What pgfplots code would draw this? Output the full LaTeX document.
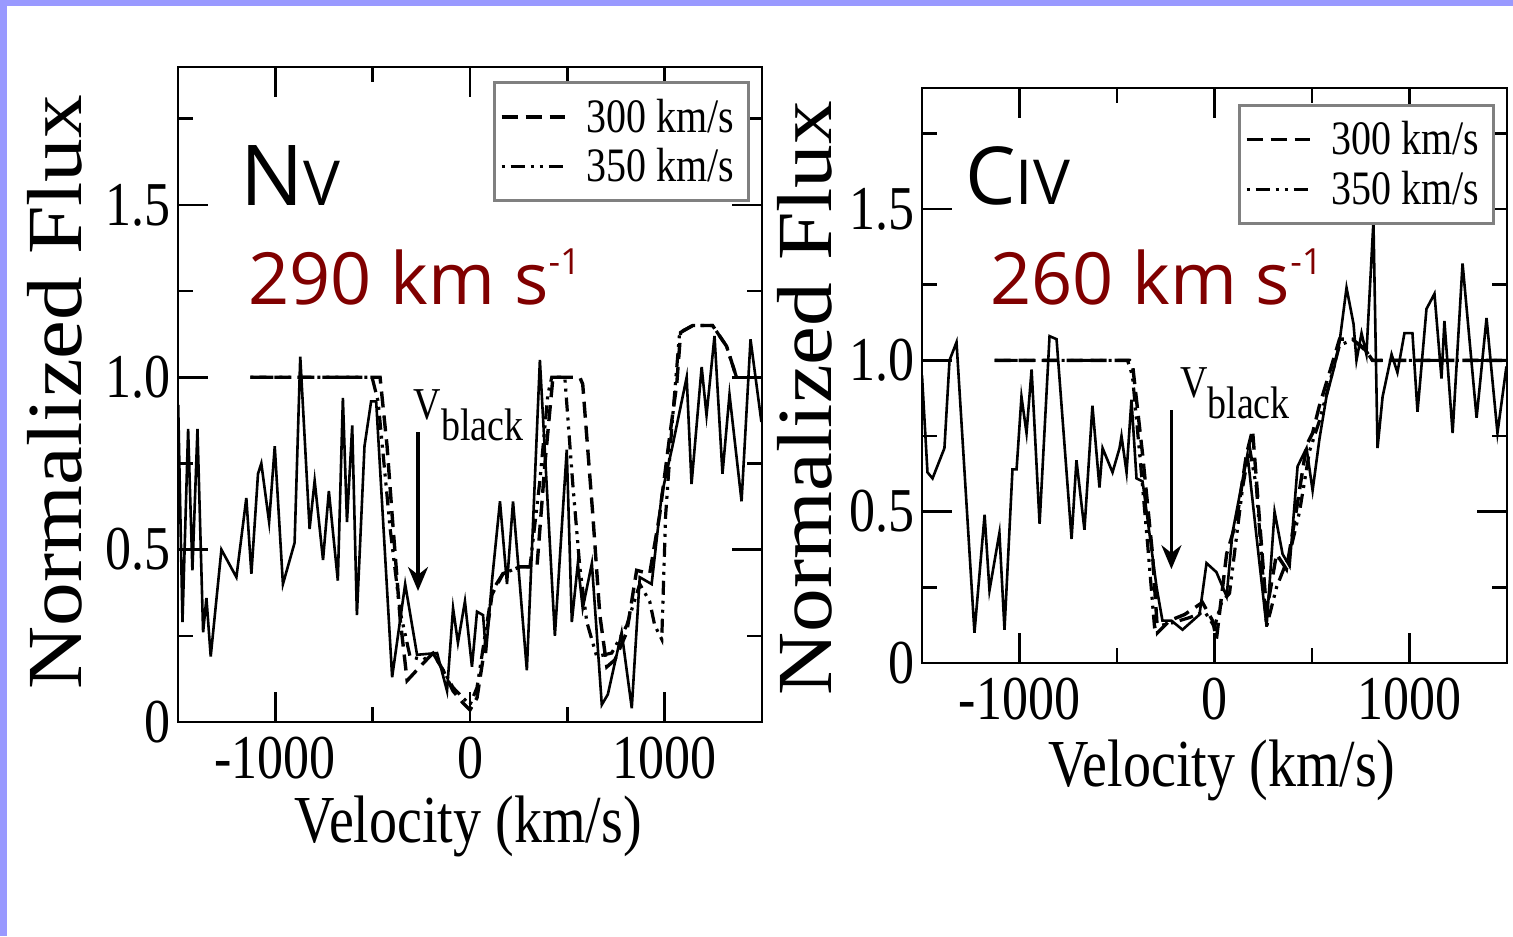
\documentclass[border=0pt]{standalone}
\usepackage{fontspec}
\setmainfont{Liberation Serif}
\newfontfamily\cfont{Open Sans}
\usepackage{pgfplots}
\usepackage{pgfplotstable}
\pgfplotsset{compat=1.18}
\usetikzlibrary{arrows.meta}

\definecolor{slideframe}{RGB}{153,153,255}
\definecolor{ionred}{RGB}{128,0,0}
\newcommand{\tl}[1]{\scalebox{1}[1.2]{#1}}

% ---------- N V ----------
\pgfplotstableread{
v f
-1499 0.92
-1477 0.29
-1448 0.85
-1426 0.44
-1400 0.85
-1371 0.26
-1354 0.36
-1332 0.19
-1277 0.50
-1200 0.42
-1149 0.65
-1123 0.43
-1089 0.72
-1072 0.75
-1032 0.58
-1003 0.80
-961 0.40
-901 0.52
-872 1.06
-824 0.56
-798 0.70
-755 0.47
-725 0.67
-679 0.41
-653 0.94
-632 0.58
-605 0.86
-581 0.31
-542 0.80
-508 0.93
-482 0.93
-400 0.13
-333 0.40
-272 0.195
-169 0.20
-118 0.09
-87 0.33
-62 0.23
-26 0.35
10 0.16
36 0.32
67 0.31
82 0.20
113 0.41
154 0.64
190 0.40
221 0.64
292 0.15
359 1.05
436 0.25
497 0.79
523 0.29
554 0.46
579 0.33
626 0.46
677 0.05
708 0.08
779 0.26
831 0.04
872 0.42
933 0.40
985 0.66
1040 0.80
1113 1.00
1138 0.69
1190 1.03
1215 0.89
1256 1.12
1297 0.72
1333 0.95
1395 0.64
1441 1.11
1497 0.87
}\nvobs

\pgfplotstableread{
v f
-1128 1.0
-462 1.0
-426 0.8
-400 0.6
-359 0.3
-323 0.12
-241 0.17
-190 0.20
-138 0.15
-87 0.09
-36 0.055
0 0.035
36 0.07
77 0.22
113 0.37
169 0.43
256 0.45
344 0.45
385 0.75
426 1.0
564 1.0
579 0.98
631 0.6
667 0.31
703 0.16
744 0.18
805 0.26
856 0.44
923 0.43
974 0.6
1026 0.83
1062 0.98
1082 1.13
1144 1.15
1246 1.15
1318 1.09
1369 1.0
}\nvthree

\pgfplotstableread{
v f
-1128 1.0
-503 1.0
-472 0.93
-410 0.56
-359 0.32
-308 0.19
-241 0.18
-190 0.20
-138 0.15
-87 0.10
-36 0.07
0 0.05
36 0.10
77 0.25
113 0.38
169 0.43
256 0.45
308 0.45
359 0.70
400 0.95
420 1.0
487 1.0
528 0.69
564 0.45
600 0.29
651 0.19
728 0.20
805 0.28
872 0.40
923 0.35
949 0.28
985 0.24
1005 0.60
1036 0.85
1077 1.13
1144 1.15
1246 1.15
1318 1.09
1369 1.0
}\nvfive

% ---------- C IV ----------
\pgfplotstableread{
v f
-1500 0.95
-1472 0.63
-1446 0.61
-1385 0.71
-1359 1.00
-1323 1.06
-1231 0.10
-1179 0.49
-1154 0.24
-1103 0.43
-1077 0.11
-1036 0.64
-1015 0.64
-990 0.88
-964 0.76
-938 0.97
-897 0.46
-846 1.08
-810 1.07
-733 0.41
-708 0.67
-667 0.44
-626 0.85
-590 0.58
-574 0.71
-523 0.63
-487 0.71
-477 0.75
-451 0.63
-426 0.87
-400 0.61
-369 0.60
-297 0.25
-267 0.14
-221 0.14
-164 0.11
-77 0.16
-41 0.33
10 0.30
62 0.22
92 0.43
169 0.69
215 0.42
267 0.12
308 0.50
349 0.36
385 0.32
426 0.65
472 0.71
503 0.57
538 0.74
574 0.88
615 0.98
641 1.06
677 1.24
713 1.12
728 1.00
754 1.09
779 1.02
815 1.46
836 0.71
862 0.88
908 1.02
938 0.96
974 1.09
1015 1.09
1041 0.83
1087 1.17
1128 1.22
1164 0.94
1179 1.13
1221 0.76
1272 1.32
1344 0.81
1395 1.14
1451 0.76
1497 0.98
}\civobs

\pgfplotstableread{
v f
-1128 1.0
-436 1.0
-421 0.99
-369 0.69
-318 0.36
-292 0.10
-231 0.14
-154 0.16
-62 0.20
-10 0.14
10 0.08
62 0.36
113 0.47
164 0.69
195 0.77
231 0.47
267 0.17
318 0.36
369 0.31
421 0.51
472 0.72
503 0.76
538 0.85
590 0.96
641 1.07
708 1.07
779 1.03
810 1.0
1500 1.0
}\civthree

\pgfplotstableread{
v f
-1128 1.0
-446 1.0
-421 0.95
-385 0.7
-344 0.4
-308 0.12
-231 0.13
-128 0.15
-51 0.17
0 0.12
36 0.2
77 0.23
144 0.58
180 0.71
215 0.58
267 0.12
318 0.25
385 0.36
436 0.50
487 0.70
538 0.80
600 0.95
641 1.05
718 1.07
779 1.03
810 1.0
1500 1.0
}\civfive

\pgfplotsset{
  spec/.style={
    scale only axis,
    xmin=-1500, xmax=1500, ymin=0, ymax=1.9,
    axis line style={line width=1.4pt},
    every tick/.style={line width=1.3pt, black},
    major tick length=15pt, minor tick length=7.5pt,
    tick align=inside,
    xtick={-1000,0,1000}, xticklabels={\tl{-1000},\tl{0},\tl{1000}},
    minor xtick={-500,500},
    ytick={0,0.5,1,1.5}, yticklabels={\tl{0},\tl{0.5},\tl{1.0},\tl{1.5}},
    minor ytick={0.25,0.75,1.25,1.75},
    ticklabel style={font=\fontsize{26}{26}\selectfont},
    xticklabel style={yshift=-4pt},
    xlabel style={font=\fontsize{28}{28}\selectfont, anchor=center},
    ylabel style={font=\fontsize{39}{39}\selectfont, anchor=center},
    xlabel={\tl{Velocity (km/s)}},
    ylabel={\scalebox{1.12}[1]{Normalized Flux}},
    legend style={anchor=north east, draw=gray, line width=1.5pt, fill=white,
      font=\fontsize{20}{20}\selectfont, inner xsep=3pt, inner ysep=5pt,
      row sep=0.6pt, column sep=6pt,
      nodes={inner xsep=4pt, inner ysep=3pt}},
    legend cell align=left,
    legend image code/.code={\draw[##1] (0pt,0pt) -- (31.5pt,0pt);},
    clip=true,
  },
  obs/.style={black, line width=1.3pt, forget plot},
  mthree/.style={black, line width=1.7pt, dash pattern=on 8pt off 4pt},
  mfive/.style={black, line width=1.6pt, dash pattern=on 1.5pt off 3pt on 7pt off 3pt on 1.5pt off 3pt},
  vblack/.style={black, line width=1.6pt, -{Stealth[length=12pt,width=10pt]}, forget plot},
}

\begin{document}
\begin{tikzpicture}
\useasboundingbox (0,0) rectangle (756.5pt,468pt);
\fill[slideframe] (0,0) rectangle (756.5pt,468pt);
\fill[white] (3.5pt,0) rectangle (756.5pt,465pt);

% N V panel
\begin{axis}[spec, at={(89pt,107pt)}, anchor=south west,
  width=292pt, height=327.5pt,
  xlabel style={at={(axis description cs:0.497,-0.160)}},
  ylabel style={at={(axis description cs:-0.211,0.504)}},
  legend style={at={(axis description cs:0.979,0.978)}}]
  \addplot[mthree] table[x=v,y=f] {\nvthree};
  \addlegendentry{\tl{300 km/s}}
  \addplot[mfive] table[x=v,y=f] {\nvfive};
  \addlegendentry{\tl{350 km/s}}
  \addplot[obs] table[x=v,y=f] {\nvobs};
  \addplot[vblack] coordinates {(-267,0.84) (-267,0.38)};
  \node[anchor=base west, inner sep=0, font=\fontsize{19}{19}\selectfont]
    at (axis cs:-292,0.878) {\tl{V\raisebox{-9pt}{black}}};
  \node[anchor=base west, inner sep=0, font=\cfont\fontsize{42}{42}\selectfont]
    at (axis description cs:0.106,0.789) {N{\fontsize{31}{31}\selectfont V}};
  \node[anchor=base west, inner sep=0, text=ionred, font=\cfont\fontsize{36}{36}\selectfont]
    at (axis description cs:0.120,0.637) {290 km s\raisebox{15pt}{\fontsize{18}{18}\selectfont -1}};
\end{axis}

% C IV panel
\begin{axis}[spec, at={(461pt,136.5pt)}, anchor=south west,
  width=292.5pt, height=287.5pt,
  xlabel style={at={(axis description cs:0.513,-0.186)}},
  ylabel style={at={(axis description cs:-0.200,0.461)}},
  legend style={at={(axis description cs:0.979,0.972)}}]
  \addplot[mthree] table[x=v,y=f] {\civthree};
  \addlegendentry{\tl{300 km/s}}
  \addplot[mfive] table[x=v,y=f] {\civfive};
  \addlegendentry{\tl{350 km/s}}
  \addplot[obs] table[x=v,y=f] {\civobs};
  \addplot[vblack] coordinates {(-221,0.835) (-221,0.31)};
  \node[anchor=base west, inner sep=0, font=\fontsize{19}{19}\selectfont]
    at (axis cs:-179,0.878) {\tl{V\raisebox{-9pt}{black}}};
  \node[anchor=base west, inner sep=0, font=\cfont\fontsize{40}{40}\selectfont]
    at (axis description cs:0.0735,0.797) {C{\fontsize{31}{31}\selectfont IV}};
  \node[anchor=base west, inner sep=0, text=ionred, font=\cfont\fontsize{36}{36}\selectfont]
    at (axis description cs:0.116,0.623) {260 km s\raisebox{15pt}{\fontsize{18}{18}\selectfont -1}};
\end{axis}
\end{tikzpicture}
\end{document}
